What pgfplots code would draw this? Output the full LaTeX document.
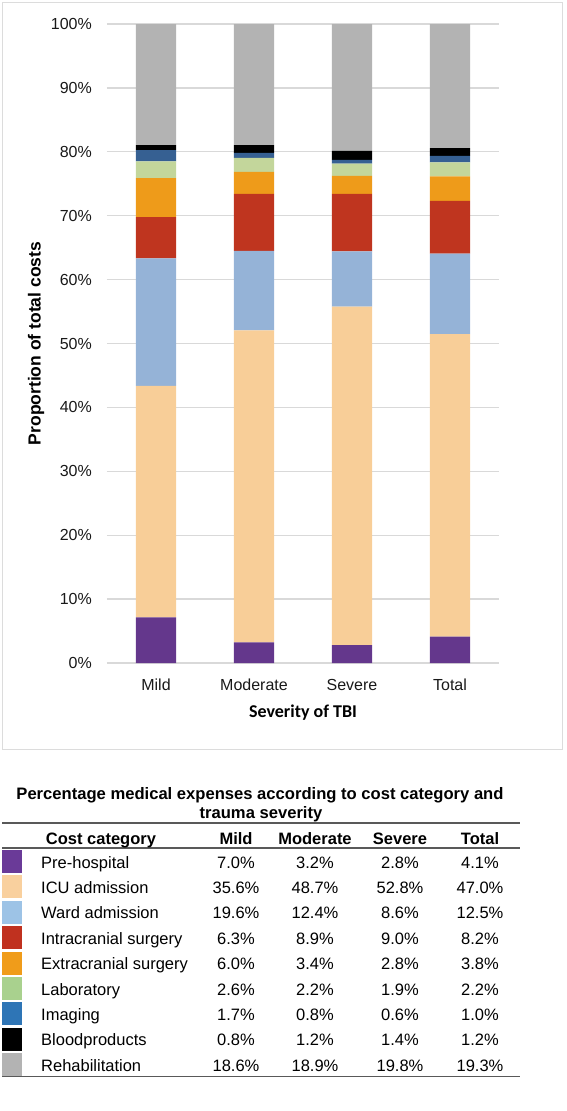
\documentclass[border=0pt]{standalone}
\usepackage{pgfplots}
\usepackage{pgfplotstable}
\pgfplotsset{compat=1.18}
\usepackage{fontspec}
\setmainfont{Liberation Sans}
\newfontfamily\calib{Carlito}
\definecolor{cpre}{HTML}{64378C}
\definecolor{cicu}{HTML}{F8CE98}
\definecolor{cward}{HTML}{95B3D7}
\definecolor{cintra}{HTML}{BF351F}
\definecolor{cextra}{HTML}{EE9B1A}
\definecolor{clab}{HTML}{C3D69B}
\definecolor{cimg}{HTML}{366092}
\definecolor{cblood}{HTML}{000000}
\definecolor{creh}{HTML}{B3B3B3}
\definecolor{tpre}{HTML}{6A3A98}
\definecolor{ticu}{HTML}{F9D09E}
\definecolor{tward}{HTML}{9DC3E6}
\definecolor{tintra}{HTML}{C0311F}
\definecolor{textra}{HTML}{F09C1A}
\definecolor{tlab}{HTML}{A9D18E}
\definecolor{timg}{HTML}{2E75B6}
\definecolor{tblood}{HTML}{000000}
\definecolor{treh}{HTML}{B3B3B3}
\definecolor{gridc}{HTML}{D9D9D9}
\definecolor{framec}{HTML}{DCDCDC}
\definecolor{tline}{HTML}{595959}

\pgfplotstableread{
x pre icu ward intra extra lab img blood rehab
0 7.13 36.25 19.96 6.42 6.11 2.65 1.73 0.81 18.94
1 3.21 48.85 12.44 8.93 3.41 2.21 0.80 1.20 18.95
2 2.81 52.96 8.63 9.03 2.81 1.91 0.60 1.40 19.85
3 4.13 47.33 12.59 8.26 3.83 2.22 1.01 1.21 19.42
}\chartdata

\begin{document}
\begin{tikzpicture}[x=1pt,y=1pt]
\path[use as bounding box] (0,0) rectangle (566,-1111);
\draw[color=framec, line width=1.3pt] (2.5,-2.5) rectangle (562.5,-749.5);
\begin{axis}[
  at={(107pt,-663pt)}, anchor=south west,
  scale only axis, width=392pt, height=639pt,
  xmin=-0.5, xmax=3.5, ymin=0, ymax=100,
  ybar stacked, bar width=40.3pt,
  xtick={0,1,2,3}, xticklabels={Mild,Moderate,Severe,Total},
  ytick={0,10,...,100},
  yticklabel={\pgfmathprintnumber{\tick}\%},
  /pgf/number format/assume math mode=true,
  ticklabel style={font=\fontsize{16}{19}\selectfont, inner sep=0pt, text=black!90},
  xticklabel style={anchor=center, yshift=-22pt},
  yticklabel style={anchor=east, xshift=-15pt},
  axis line style={draw=none},
  tick style={draw=none},
  ymajorgrids, grid style={color=gridc, line width=1.3pt},
  ylabel={Proportion of total costs},
  ylabel style={at={(axis description cs:-0.1811,0.5)}, anchor=center, rotate=0, font=\bfseries\fontsize{17.5}{20}\selectfont},
  xlabel={Severity of TBI},
  xlabel style={at={(axis description cs:0.5,-0.0782)}, anchor=center, font=\calib\bfseries\fontsize{18}{21}\selectfont},
  every axis plot/.append style={draw=none},
]
\addplot[fill=cpre] table[x=x,y=pre]{\chartdata};
\addplot[fill=cicu] table[x=x,y=icu]{\chartdata};
\addplot[fill=cward] table[x=x,y=ward]{\chartdata};
\addplot[fill=cintra] table[x=x,y=intra]{\chartdata};
\addplot[fill=cextra] table[x=x,y=extra]{\chartdata};
\addplot[fill=clab] table[x=x,y=lab]{\chartdata};
\addplot[fill=cimg] table[x=x,y=img]{\chartdata};
\addplot[fill=cblood] table[x=x,y=blood]{\chartdata};
\addplot[fill=creh] table[x=x,y=rehab]{\chartdata};
\end{axis}

% table
\node[anchor=base, font=\bfseries\fontsize{16.6}{19}\selectfont] at (260,-799) {Percentage medical expenses according to cost category and};
\node[anchor=base, font=\bfseries\fontsize{16.6}{19}\selectfont] at (261,-818.5) {trauma severity};
\draw[color=tline, line width=1.4pt] (2,-823) -- (520,-823);
\draw[color=tline, line width=1.4pt] (2,-848) -- (520,-848);
\draw[color=tline, line width=1.4pt] (2,-1076.5) -- (520,-1076.5);
\begin{scope}[every node/.style={anchor=base, font=\bfseries\fontsize{16.5}{19}\selectfont, inner sep=0pt}]
\node at (101,-844) {Cost category};
\node at (236,-844) {Mild};
\node at (315,-844) {Moderate};
\node at (400,-844) {Severe};
\node at (480,-844) {Total};
\end{scope}
\foreach \i/\lab/\c/\a/\b/\d/\e in {
 0/Pre-hospital/tpre/7.0/3.2/2.8/4.1,
 1/ICU admission/ticu/35.6/48.7/52.8/47.0,
 2/Ward admission/tward/19.6/12.4/8.6/12.5,
 3/Intracranial surgery/tintra/6.3/8.9/9.0/8.2,
 4/Extracranial surgery/textra/6.0/3.4/2.8/3.8,
 5/Laboratory/tlab/2.6/2.2/1.9/2.2,
 6/Imaging/timg/1.7/0.8/0.6/1.0,
 7/Bloodproducts/tblood/0.8/1.2/1.4/1.2,
 8/Rehabilitation/treh/18.6/18.9/19.8/19.3}{
  \pgfmathsetmacro{\yb}{-868-25.4*\i}
  \pgfmathsetmacro{\yt}{-850-25.4*\i}
  \pgfmathsetmacro{\ybot}{-873-25.4*\i}
  \fill[\c] (2,\yt) rectangle (21.5,\ybot);
  \begin{scope}[every node/.style={anchor=base, font=\fontsize{16.5}{19}\selectfont, inner sep=0pt}]
  \node[anchor=base west] at (41,\yb) {\lab};
  \node at (236,\yb) {\a\%};
  \node at (315,\yb) {\b\%};
  \node at (400,\yb) {\d\%};
  \node at (480,\yb) {\e\%};
  \end{scope}
}
\end{tikzpicture}
\end{document}
